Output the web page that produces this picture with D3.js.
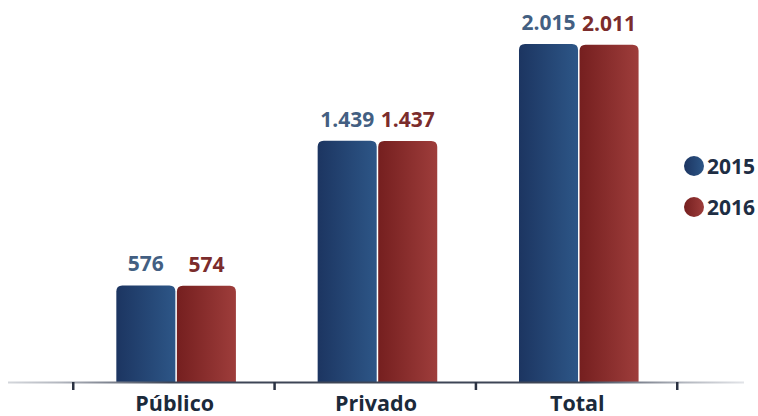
<!DOCTYPE html>
<html>
<head>
<meta charset="utf-8">
<script src="https://cdn.jsdelivr.net/npm/d3@7"></script>
<style>
  html, body { margin: 0; padding: 0; background: #ffffff; }
  svg { display: block; }
  text { font-family: "Open Sans", "Noto Sans", sans-serif; font-weight: 700; }
</style>
</head>
<body>
<svg id="chart" width="758" height="416"></svg>
<script>
// Enrollment counts by sector, 2015 vs 2016
const categories = ["Público", "Privado", "Total"];
const seriesNames = ["2015", "2016"];
const values2015 = [576, 1439, 2015];
const values2016 = [574, 1437, 2011];
const valueLabels2015 = ["576", "1.439", "2.015"];
const valueLabels2016 = ["574", "1.437", "2.011"];

const seriesValues = [values2015, values2016];
const seriesLabels = [valueLabels2015, valueLabels2016];

const W = 758, H = 416;
const baseY = 382;

const svg = d3.select("#chart");
const defs = svg.append("defs");

// horizontal shading for the bars: darker on the left edge, lighter on the right
const palettes = [
  { id: "g2015", from: "#1c3561", to: "#2d5687", label: "#435f82" },
  { id: "g2016", from: "#751f1f", to: "#9e3d3b", label: "#7b2c2c" }
];
palettes.forEach(p => {
  const g = defs.append("linearGradient").attr("id", p.id)
    .attr("x1", "0%").attr("x2", "100%").attr("y1", "0%").attr("y2", "0%");
  g.append("stop").attr("offset", "0%").attr("stop-color", p.from);
  g.append("stop").attr("offset", "100%").attr("stop-color", p.to);
});
const axisGrad = defs.append("linearGradient").attr("id", "axisGrad")
  .attr("gradientUnits", "userSpaceOnUse").attr("x1", 8).attr("x2", 744).attr("y1", 0).attr("y2", 0);
[[0, "#d4d7dc"], [0.07, "#b3b7bf"], [0.22, "#3d4556"], [0.78, "#3d4556"], [0.92, "#b3b7bf"], [1, "#e2e4e8"]]
  .forEach(([o, c]) => axisGrad.append("stop").attr("offset", o).attr("stop-color", c));

const x0 = d3.scaleBand().domain(categories).range([73, 677]);
const x1 = d3.scaleBand().domain(seriesNames).range([0, x0.bandwidth()])
  .paddingInner(0.025).paddingOuter(0.675).align(0.53);
const y = d3.scaleLinear().domain([0, 2200]).range([baseY, 13]);

// bar with rounded top corners
function barPath(x, yTop, w, h, r) {
  r = Math.min(r, w / 2, h);
  return `M${x},${yTop + h}V${yTop + r}Q${x},${yTop} ${x + r},${yTop}` +
         `H${x + w - r}Q${x + w},${yTop} ${x + w},${yTop + r}V${yTop + h}Z`;
}

const groups = svg.append("g").selectAll("g")
  .data(categories).join("g")
  .attr("transform", d => `translate(${x0(d)},0)`);

seriesNames.forEach((s, si) => {
  groups.append("path")
    .attr("d", (d, i) => {
      const v = seriesValues[si][i];
      return barPath(x1(s), y(v), x1.bandwidth(), baseY - y(v), 6);
    })
    .attr("fill", `url(#${palettes[si].id})`);

  groups.append("text")
    .attr("x", x1(s) + x1.bandwidth() / 2)
    .attr("y", (d, i) => y(seriesValues[si][i]) - 14)
    .attr("text-anchor", "middle")
    .attr("font-size", 21)
    .attr("fill", palettes[si].label)
    .text((d, i) => seriesLabels[si][i]);
});

// baseline with tick marks at the band edges
svg.append("rect").attr("x", 8).attr("y", baseY - 0.5).attr("width", 736).attr("height", 2)
  .attr("fill", "url(#axisGrad)");
const tickPositions = categories.map(c => x0(c)).concat([x0.range()[1]]);
svg.append("g").selectAll("rect").data(tickPositions).join("rect")
  .attr("x", d => d - 1).attr("y", baseY).attr("width", 2.5).attr("height", 8)
  .attr("fill", "#2b3242");

// category labels
svg.append("g").selectAll("text").data(categories).join("text")
  .attr("x", d => x0(d) + x0.bandwidth() / 2 + 1)
  .attr("y", 411)
  .attr("text-anchor", "middle")
  .attr("font-size", 21.5)
  .attr("fill", "#1b2a3b")
  .text(d => d);

// legend
const legend = svg.append("g").selectAll("g").data(seriesNames).join("g")
  .attr("transform", (d, i) => `translate(694,${166 + i * 41})`);
legend.append("circle").attr("r", 10)
  .attr("fill", (d, i) => `url(#${palettes[i].id})`);
legend.append("text").attr("x", 13).attr("y", 7.5)
  .attr("font-size", 21)
  .attr("fill", "#1e2e44")
  .text(d => d);
</script>
</body>
</html>
